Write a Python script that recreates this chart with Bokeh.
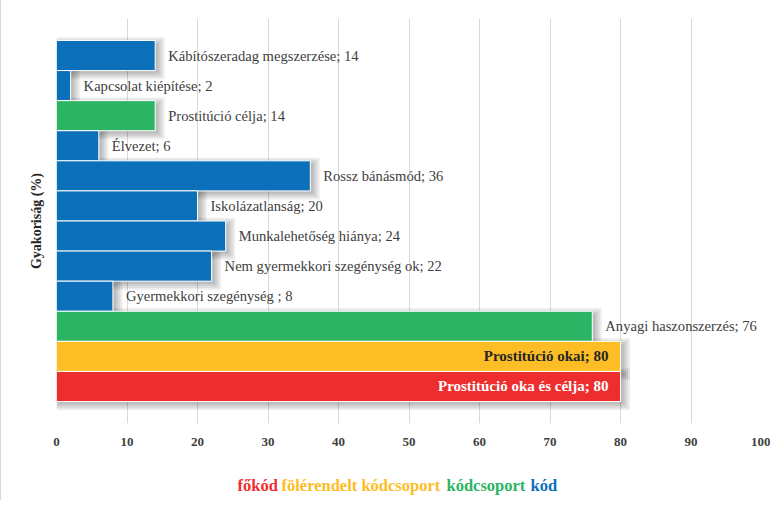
from bokeh.plotting import figure
from bokeh.layouts import column
from bokeh.models import ColumnDataSource, Range1d, FixedTicker, CustomJSTransform
from bokeh.transform import dodge, transform
from bokeh.embed import file_html
from bokeh.resources import INLINE
from bokeh.core.properties import value

# ---- data (top to bottom as in the chart) ----
names = ["Kábítószeradag megszerzése", "Kapcsolat kiépítése", "Prostitúció célja",
         "Élvezet", "Rossz bánásmód", "Iskolázatlanság", "Munkalehetőség hiánya",
         "Nem gyermekkori szegénység ok", "Gyermekkori szegénység ", "Anyagi haszonszerzés",
         "Prostitúció okai", "Prostitúció oka és célja"]
values = [14, 2, 14, 6, 36, 20, 24, 22, 8, 76, 80, 80]
levels = ["kód", "kód", "kódcsoport", "kód", "kód", "kód", "kód", "kód", "kód",
          "kódcsoport", "fölérendelt kódcsoport", "főkód"]
legend_items = ["főkód", "fölérendelt kódcsoport", "kódcsoport", "kód"]
x_ticks = [0, 10, 20, 30, 40, 50, 60, 70, 80, 90, 100]

level_colors = {"főkód": "#EE2D2F", "fölérendelt kódcsoport": "#FDBD24",
                "kódcsoport": "#2BB463", "kód": "#0C6FBA"}
FONT = "Liberation Serif"
GLYPH_FONT = "'Liberation Serif', serif"

n = len(names)
ys = [n - 1 - i for i in range(n)]
colors = [level_colors[l] for l in levels]
texts = [f"{nm}; {v}" for nm, v in zip(names, values)]

src = ColumnDataSource(dict(y=ys, v=values, color=colors, text=texts, level=levels))

YPAD = 0.73
p = figure(width=770, height=460, output_backend="svg", toolbar_location=None,
           x_range=Range1d(0, 100), y_range=Range1d(-0.5 - YPAD, n - 0.5 + YPAD),
           min_border_left=55, min_border_right=10, min_border_top=18, min_border_bottom=37)
p.outline_line_color = None
p.background_fill_color = "white"
p.border_fill_color = "white"

# soft drop shadows: several faint layers to fake a blur
for k in range(4):
    grow = CustomJSTransform(v_func=f"return xs.map(x => x + 0.45 + {0.3 * k})")
    p.hbar(y=dodge("y", -0.09, range=None), left=0.3 - 0.3 * k,
           right=transform("v", grow), height=1.0 + 0.13 * k, source=src,
           fill_color="black", fill_alpha=0.07, line_color=None)

p.hbar(y="y", left=0, right="v", height=1.0, source=src,
       fill_color="color", line_color="white", line_width=1)

# outside labels
out_idx = [i for i, l in enumerate(levels) if l in ("kód", "kódcsoport")]
src_out = ColumnDataSource(dict(y=[ys[i] for i in out_idx], v=[values[i] for i in out_idx],
                                text=[texts[i] for i in out_idx]))
p.text(x="v", y="y", text="text", source=src_out, x_offset=13,
       text_font=value(GLYPH_FONT), text_font_size="14.6px", text_color="#404040",
       text_align="left", text_baseline="middle")

# inside labels
in_idx = [i for i, l in enumerate(levels) if l not in ("kód", "kódcsoport")]
in_cols = {"fölérendelt kódcsoport": "#262626", "főkód": "white"}
src_in = ColumnDataSource(dict(y=[ys[i] for i in in_idx], v=[values[i] for i in in_idx],
                               text=[texts[i] for i in in_idx],
                               tc=[in_cols[levels[i]] for i in in_idx]))
p.text(x="v", y="y", text="text", source=src_in, x_offset=-12,
       text_font=value(GLYPH_FONT), text_font_size="15px", text_font_style="bold",
       text_color="tc", text_align="right", text_baseline="middle")

# axes
p.xaxis.ticker = FixedTicker(ticks=x_ticks)
p.xaxis.axis_line_color = None
p.xaxis.major_tick_line_color = None
p.xaxis.minor_tick_line_color = None
p.xaxis.major_label_standoff = 8
p.xaxis.major_label_text_font = FONT
p.xaxis.major_label_text_font_size = "13px"
p.xaxis.major_label_text_font_style = "bold"
p.xaxis.major_label_text_color = "#404040"

p.yaxis.ticker = FixedTicker(ticks=[])
p.yaxis.axis_line_color = None
p.yaxis.major_tick_line_color = None
p.yaxis.minor_tick_line_color = None
p.yaxis.axis_label = "Gyakoriság (%)"
p.yaxis.axis_label_text_font = FONT
p.yaxis.axis_label_text_font_size = "14px"
p.yaxis.axis_label_text_font_style = "bold"
p.yaxis.axis_label_text_color = "#262626"
p.yaxis.axis_label_standoff = 13

p.xgrid.ticker = FixedTicker(ticks=x_ticks)
p.xgrid.grid_line_color = "#d9d9d9"
p.ygrid.grid_line_color = None
p.styles = {"border-left": "1px solid #d9d9d9"}

# ---- legend strip: coloured words in one line ----
leg = figure(width=770, height=40, output_backend="svg", toolbar_location=None,
             x_range=Range1d(55, 760), y_range=Range1d(0, 40),
             min_border_left=55, min_border_right=10, min_border_top=0, min_border_bottom=0)
leg.axis.visible = False
leg.grid.grid_line_color = None
leg.outline_line_color = None
leg.styles = {"border-left": "1px solid #d9d9d9"}
starts_px = [236, 280, 445, 529]
leg_src = ColumnDataSource(dict(x=starts_px, y=[15] * 4, text=legend_items,
                                c=[level_colors[w] for w in legend_items]))
leg.text(x="x", y="y", text="text", source=leg_src, text_color="c",
         text_font=value(GLYPH_FONT), text_font_size="16.5px", text_font_style="bold",
         text_align="left", text_baseline="middle")

open("out.html", "w").write(file_html(column(p, leg, spacing=0), INLINE))
